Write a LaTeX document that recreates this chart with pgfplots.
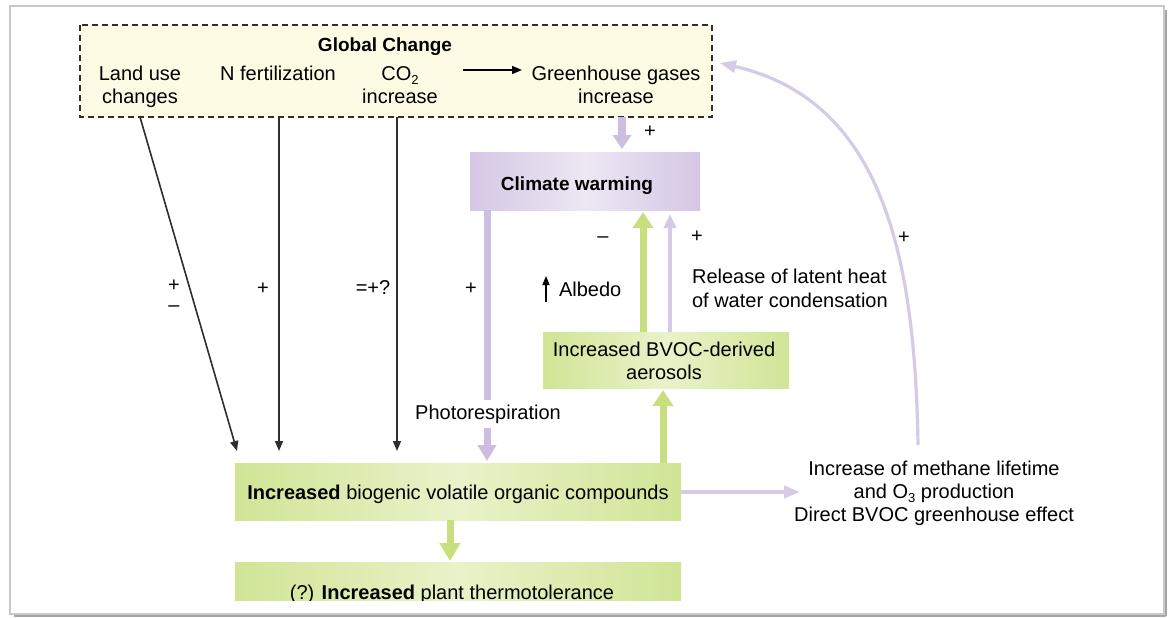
\documentclass[border=0pt]{standalone}
\usepackage{pgfplots}
\pgfplotsset{compat=1.18}
\usepackage{fontspec}
\setmainfont{Liberation Sans}
\usetikzlibrary{arrows.meta}
\definecolor{ylw}{HTML}{FDFBE4}
\definecolor{purp}{HTML}{CDBDE0}
\definecolor{purpl}{HTML}{D6CBE6}
\definecolor{purpbox}{HTML}{D5C7E5}
\definecolor{purpboxl}{HTML}{EDE7F3}
\definecolor{grn}{HTML}{D0E596}
\definecolor{grnl}{HTML}{E9F2C9}
\definecolor{grna}{HTML}{C8DF7E}
\definecolor{txt}{HTML}{2E2E2E}
\definecolor{frm}{HTML}{C8C8C8}
\newcommand\sub[1]{\raisebox{-0.45ex}{\fontsize{6.5}{7}\selectfont #1}}
\begin{document}
\begin{tikzpicture}
\begin{axis}[scale only axis, width=586pt, height=308pt,
  xmin=0, xmax=1172, ymin=0, ymax=616, y dir=reverse,
  axis lines=none, clip=false,
  every node/.style={font=\fontsize{9.2}{11}\selectfont, text=txt, inner sep=0pt}]
% background
\addplot[draw=none, fill=white] coordinates {(0,0) (1172,0) (1172,616) (0,616)} \closedcycle;
% Global change box
\fill[ylw] (80,25) rectangle (712,117);
\draw[txt, line width=0.8pt, dash pattern=on 3pt off 2pt] (80,25) rectangle (712,117);
\node[anchor=base, font=\fontsize{9.5}{11.5}\selectfont\bfseries] at (385,51) {Global Change};
\node[anchor=base] at (140,80) {Land use};
\node[anchor=base] at (140,103) {changes};
\node[anchor=base] at (278,80) {N fertilization};
\node[anchor=base] at (400,80) {CO\sub{2}};
\node[anchor=base] at (400,103) {increase};
\node[anchor=base] at (616,80) {Greenhouse gases};
\node[anchor=base] at (616,103) {increase};
\draw[black, line width=0.8pt, -{Triangle[width=4pt,length=5pt]}] (463,70) -- (522,70);
% black arrows down
\draw[txt, line width=0.8pt, -{Triangle[width=4pt,length=5pt]}] (140,117) -- (237,451);
\draw[txt, line width=0.8pt, -{Triangle[width=4pt,length=5pt]}] (279,117) -- (279,451);
\draw[txt, line width=0.8pt, -{Triangle[width=4pt,length=5pt]}] (397,117) -- (397,451);
\node[anchor=base] at (174,291) {+};
\node[anchor=base] at (174,311) {\textendash};
\node[anchor=base] at (263,294) {+};
\node[anchor=base] at (373,294) {=+?};
\node[anchor=base] at (471,294) {+};
% climate warming box
\shade[left color=purpbox, right color=purpbox, middle color=purpboxl] (470,152) rectangle (700,210);
\node[anchor=base, font=\fontsize{9.5}{11.5}\selectfont\bfseries] at (577,190) {Climate warming};
% global -> climate
\draw[purp, line width=4pt, -{Triangle[width=9pt,length=7pt]}] (622,117) -- (622,149);
\node[anchor=base] at (650,137) {+};
% climate -> main (photorespiration)
\draw[purp, line width=3.5pt] (487,210) -- (487,400);
\draw[purp, line width=3.5pt, -{Triangle[width=9pt,length=8pt]}] (487,428) -- (487,461);
\node[anchor=base] at (488,419) {Photorespiration};
% aerosol box
\shade[left color=grn, right color=grn, middle color=grnl] (543,332) rectangle (789,388);
\node[anchor=base] at (664,356) {Increased BVOC-derived};
\node[anchor=base] at (664,379) {aerosols};
% aerosol -> climate
\draw[grna, line width=3.5pt, -{Triangle[width=10pt,length=8pt]}] (643,332) -- (643,212);
\draw[purpl, line width=2pt, -{Triangle[width=6pt,length=7pt]}] (670,332) -- (670,214);
\node[anchor=base] at (603,242) {\textendash};
\node[anchor=base] at (697,242) {+};
\draw[black, line width=0.7pt, -{Triangle[width=3.5pt,length=4.5pt]}] (546,302) -- (546,276);
\node[anchor=base west] at (552,296) {Albedo};
\node[anchor=base west] at (685,283) {Release of latent heat};
\node[anchor=base west] at (685,307) {of water condensation};
% main box
\shade[left color=grn, right color=grn, middle color=grnl] (235,463) rectangle (681,520);
\node[anchor=base] at (458,499) {\textbf{Increased} biogenic volatile organic compounds};
% main -> aerosol
\draw[grna, line width=3.5pt, -{Triangle[width=10pt,length=8pt]}] (663,463) -- (663,390);
% main -> right
\draw[purpl, line width=2pt, -{Triangle[width=6pt,length=8pt]}] (681,492) -- (800,492);
\node[anchor=base] at (934,475) {Increase of methane lifetime};
\node[anchor=base] at (934,498) {and O\sub{3} production};
\node[anchor=base] at (934,521) {Direct BVOC greenhouse effect};
% curved arrow
\draw[purpl, line width=1.6pt, -{Triangle[width=6pt,length=8pt]}] (918,445) .. controls (915,250) and (880,100) .. (720,63);
\node[anchor=base] at (904,243) {+};
% main -> bottom
\draw[grna, line width=3.5pt, -{Triangle[width=10pt,length=9pt]}] (450,520) -- (450,561);
% bottom box (clipped)
\begin{scope}
\clip (0,0) rectangle (1172,600);
\shade[left color=grn, right color=grn, middle color=grnl] (235,562) rectangle (681,605);
\node[anchor=base] at (452,599) {(?) \textbf{Increased} plant thermotolerance};
\end{scope}
% frame
\draw[frm, line width=0.8pt] (10,6) rectangle (1164,614);
\draw[black!35, line width=1pt] (1166,10) -- (1166,616);
\draw[black!35, line width=1pt] (14,615.5) -- (1166,615.5);
\end{axis}
\end{tikzpicture}
\end{document}
